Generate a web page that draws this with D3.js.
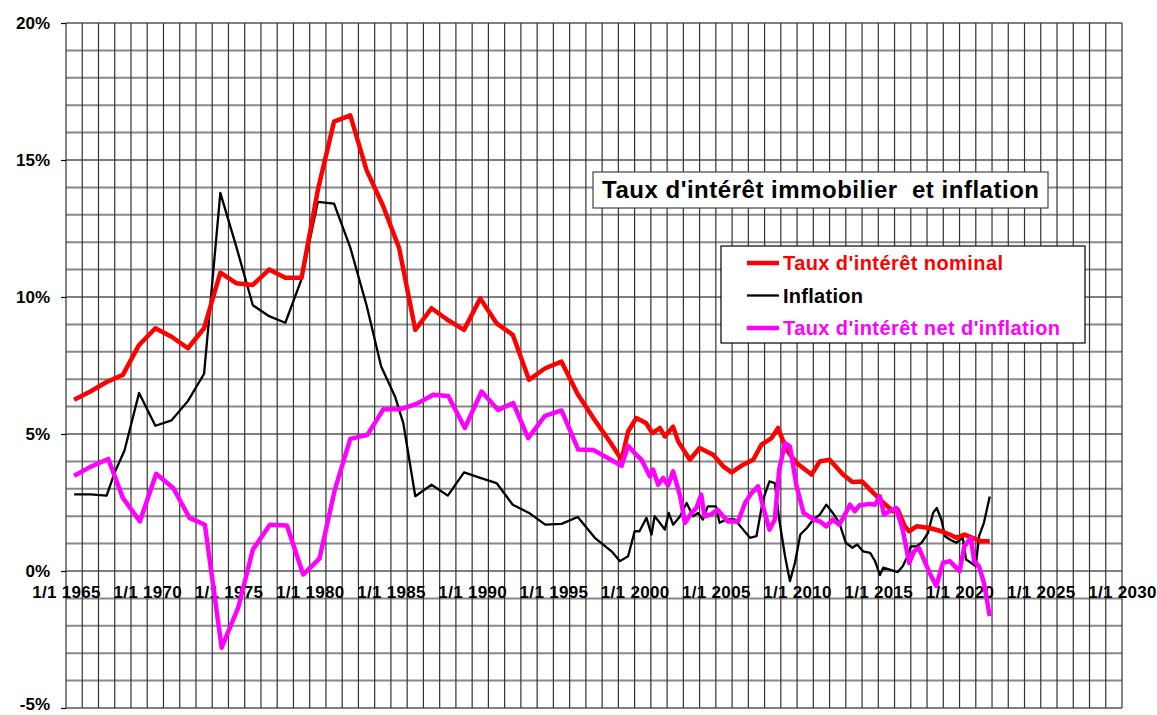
<!DOCTYPE html>
<html>
<head>
<meta charset="utf-8">
<script src="https://cdn.jsdelivr.net/npm/d3@7"></script>
<style>
html,body{margin:0;padding:0;background:#fff;}
svg{display:block;font-family:"Liberation Sans",Arial,sans-serif;}
</style>
</head>
<body>
<svg id="chart" width="1157" height="715"></svg>
<script>
// ---- Data (decimal years, values in %) ----
const nominalYears = [1965.5,1966.5,1967.5,1968.5,1969.5,1970.5,1971.5,1972.5,1973.5,1974.5,1975.5,1976.5,1977.5,1978.5,1979.5,1980.5,1981.5,1982.5,1983.5,1984.5,1985.5,1986.5,1987.5,1988.5,1989.5,1990.5,1991.5,1992.5,1993.5,1994.5,1995.5,1996.5,1997.5,1998.5,1999.2,1999.6,2000.1,2000.7,2001.1,2001.55,2001.86,2002.37,2002.68,2003.4,2004.0,2004.83,2005.45,2005.97,2006.68,2007.3,2007.81,2008.43,2008.83,2009.35,2009.97,2010.89,2011.4,2012.0,2012.83,2013.4,2014.0,2014.8,2015.1,2015.9,2016.2,2016.63,2016.9,2017.35,2018.16,2018.88,2019.4,2019.8,2020.3,2020.8,2021.33,2021.86];
const nominalVals  = [6.25,6.55,6.9,7.16,8.25,8.86,8.55,8.13,8.86,10.89,10.5,10.44,11.0,10.7,10.7,13.9,16.4,16.63,14.63,13.35,11.8,8.8,9.59,9.16,8.8,9.95,9.04,8.62,6.98,7.4,7.64,6.45,5.55,4.7,4.06,5.09,5.58,5.4,5.03,5.22,4.91,5.27,4.73,4.06,4.49,4.24,3.82,3.6,3.88,4.06,4.61,4.85,5.22,4.43,3.94,3.52,4.0,4.06,3.52,3.25,3.27,2.79,2.6,2.18,2.24,1.63,1.45,1.63,1.57,1.45,1.33,1.21,1.33,1.21,1.09,1.09];

const inflationYears = [1965.5,1966.5,1967.5,1968.0,1968.6,1969.5,1970.5,1971.5,1972.5,1973.5,1974.5,1975.5,1976.5,1977.5,1978.5,1979.5,1980.5,1981.5,1982.5,1983.5,1984.4,1985.25,1985.76,1986.5,1987.5,1988.5,1989.5,1990.5,1991.5,1992.5,1993.5,1994.5,1995.5,1996.5,1997.55,1998.58,1999.1,1999.6,2000.0,2000.3,2000.73,2001.04,2001.23,2001.55,2001.86,2002.1,2002.37,2002.8,2003.2,2003.6,2003.9,2004.2,2004.5,2005.0,2005.23,2005.66,2006.17,2006.68,2007.1,2007.5,2007.9,2008.3,2008.63,2008.9,2009.26,2009.56,2009.87,2010.2,2010.6,2011.0,2011.4,2011.8,2012.2,2012.6,2013.0,2013.4,2013.7,2014.06,2014.5,2014.8,2015.1,2015.3,2015.7,2016.2,2016.5,2016.8,2017.0,2017.35,2017.66,2018.06,2018.37,2018.6,2018.88,2019.1,2019.4,2019.8,2020.2,2020.4,2020.7,2021.0,2021.2,2021.5,2021.86];
const inflationVals  = [2.8,2.8,2.75,3.6,4.4,6.5,5.3,5.5,6.2,7.2,13.8,11.8,9.7,9.3,9.06,10.65,13.47,13.41,11.8,9.7,7.46,6.37,5.4,2.73,3.15,2.75,3.6,3.4,3.21,2.42,2.12,1.69,1.72,1.97,1.21,0.72,0.36,0.54,1.45,1.45,1.94,1.33,2.0,1.76,1.51,2.12,1.69,2.0,2.48,2.0,2.12,1.88,2.36,2.36,1.76,1.88,1.88,1.51,1.21,1.27,2.6,3.27,3.21,1.88,0.54,-0.37,0.3,1.33,1.57,1.88,2.06,2.42,2.12,1.76,1.03,0.85,0.97,0.72,0.66,0.36,-0.15,0.12,0.05,-0.04,0.17,0.54,0.9,0.9,1.03,1.39,2.12,2.3,1.88,1.27,1.15,1.03,1.21,0.42,0.3,0.17,1.27,1.76,2.72];

const netYears = [1965.5,1966.5,1967.6,1968.5,1969.55,1970.55,1971.6,1972.6,1973.55,1974.58,1975.6,1976.5,1977.55,1978.6,1979.6,1980.6,1981.55,1982.5,1983.55,1984.53,1985.55,1986.58,1987.6,1988.53,1989.55,1990.58,1991.6,1992.53,1993.45,1994.48,1995.5,1996.53,1997.45,1999.2,1999.6,2000.1,2000.43,2000.94,2001.14,2001.45,2001.76,2002.06,2002.37,2002.8,2003.1,2003.5,2003.8,2004.1,2004.3,2004.7,2005.1,2005.45,2005.75,2006.37,2006.8,2007.2,2007.6,2007.9,2008.3,2008.63,2008.9,2009.26,2009.56,2009.97,2010.4,2011.0,2011.4,2011.8,2012.2,2012.6,2013.0,2013.25,2013.55,2013.85,2014.5,2014.8,2015.1,2015.35,2015.7,2016.1,2016.5,2016.9,2017.2,2017.5,2018.16,2018.57,2018.98,2019.4,2020.0,2020.3,2020.7,2020.9,2021.2,2021.5,2021.86];
const netVals  = [3.48,3.8,4.09,2.67,1.81,3.55,3.03,1.94,1.69,-2.8,-1.34,0.78,1.69,1.66,-0.13,0.45,2.97,4.82,4.97,5.9,5.9,6.1,6.43,6.39,5.22,6.55,5.88,6.13,4.85,5.66,5.86,4.43,4.42,3.84,4.57,4.24,4.06,3.45,3.7,3.15,3.4,3.12,3.64,2.73,1.76,2.12,2.3,2.79,2.0,2.06,2.24,2.0,1.81,1.81,2.48,2.85,3.09,2.36,1.51,1.88,3.7,4.67,4.55,3.09,2.12,1.88,1.81,1.63,1.88,1.69,2.12,2.42,2.18,2.4,2.45,2.42,2.72,2.06,2.18,2.3,1.51,0.3,0.72,0.84,-0.07,-0.55,0.3,0.36,-0.01,0.9,1.21,0.36,0.17,-0.43,-1.65];

const xTickYears = [1965,1970,1975,1980,1985,1990,1995,2000,2005,2010,2015,2020,2025,2030];
const yTickVals = [-5,0,5,10,15,20];
const titleText = "Taux d'intérêt immobilier  et inflation";
const legendLabels = ["Taux d'intérêt nominal","Inflation","Taux d'intérêt net d'inflation"];
const seriesColors = ["#ff0000","#000000","#ff00ff"];

// ---- Scales ----
const svg = d3.select("#chart");
const x = d3.scaleLinear().domain([1965,2030]).range([66,1122]);
const y = d3.scaleLinear().domain([-5,20]).range([708,23]);

svg.append("rect").attr("width",1157).attr("height",715).attr("fill","#fff");

// ---- Grid ----
const grid = svg.append("g");
grid.selectAll("line.h").data(d3.range(-5,21)).join("line")
  .attr("x1",x(1965)).attr("x2",x(2030))
  .attr("y1",d=>y(d)).attr("y2",d=>y(d))
  .attr("stroke",d=>d%5===0?"#000":"#888")
  .attr("stroke-width",d=>d%5===0?1.2:2);
grid.selectAll("line.v").data(d3.range(1965,2031)).join("line")
  .attr("x1",d=>x(d)).attr("x2",d=>x(d))
  .attr("y1",y(20)).attr("y2",y(-5))
  .attr("stroke","#333").attr("stroke-width",1.2);

// ---- Axes ----
const yAxis = svg.append("g").attr("transform",`translate(${x(1965)},0)`)
  .call(d3.axisLeft(y).tickValues(yTickVals).tickFormat(d=>d+"%").tickSize(5).tickPadding(11));
yAxis.select(".domain").remove();
yAxis.selectAll("line").attr("stroke","#000").attr("stroke-width",1.2);
yAxis.selectAll("text").attr("font-size",17).attr("font-weight","bold").attr("fill","#000")
  .attr("font-family","'Liberation Sans',Arial,sans-serif")
  .attr("dy",d=>d===-5?"0.1em":"0.32em");

const xAxis = svg.append("g").attr("transform",`translate(0,${y(0)})`)
  .call(d3.axisBottom(x).tickValues(xTickYears).tickFormat(d=>"1/1 "+d).tickSize(0).tickPadding(15));
xAxis.select(".domain").remove();
xAxis.selectAll("text").attr("font-size",17).attr("font-weight","bold").attr("fill","#000")
  .attr("letter-spacing","0.3px")
  .attr("font-family","'Liberation Sans',Arial,sans-serif");

// ---- Lines ----
const line = d3.line().x(d=>x(d[0])).y(d=>y(d[1]));
const zip = (a,b)=>a.map((v,i)=>[v,b[i]]);
svg.append("path").datum(zip(inflationYears,inflationVals)).attr("d",line)
  .attr("fill","none").attr("stroke",seriesColors[1]).attr("stroke-width",2.3).attr("stroke-linejoin","round");
svg.append("path").datum(zip(nominalYears,nominalVals)).attr("d",line)
  .attr("fill","none").attr("stroke",seriesColors[0]).attr("stroke-width",4.5).attr("stroke-linejoin","round");
svg.append("path").datum(zip(netYears,netVals)).attr("d",line)
  .attr("fill","none").attr("stroke",seriesColors[2]).attr("stroke-width",4.5).attr("stroke-linejoin","round");

// ---- Title box ----
svg.append("rect").attr("x",593).attr("y",172).attr("width",455).attr("height",36)
  .attr("fill","#fff").attr("stroke","#444").attr("stroke-width",1.2);
svg.append("text").attr("x",602).attr("y",198).text(titleText)
  .attr("font-size",24).attr("font-weight","bold").attr("fill","#000")
  .attr("textLength",437).attr("lengthAdjust","spacing")
  .style("white-space","pre");

// ---- Legend ----
svg.append("rect").attr("x",721).attr("y",246).attr("width",364).attr("height",97)
  .attr("fill","#fff").attr("stroke","#000").attr("stroke-width",1.2);
const legY = [263,295.5,328];
const legW = [220,80,277];
const legSW = [4.5,2.3,4.5];
legendLabels.forEach((lab,i)=>{
  svg.append("line").attr("x1",747).attr("x2",779).attr("y1",legY[i]).attr("y2",legY[i])
    .attr("stroke",seriesColors[i]).attr("stroke-width",legSW[i]);
  svg.append("text").attr("x",783).attr("y",legY[i]+7).text(lab)
    .attr("font-size",20).attr("font-weight","bold").attr("fill",seriesColors[i])
    .attr("textLength",legW[i]).attr("lengthAdjust","spacing");
});
</script>
</body>
</html>
